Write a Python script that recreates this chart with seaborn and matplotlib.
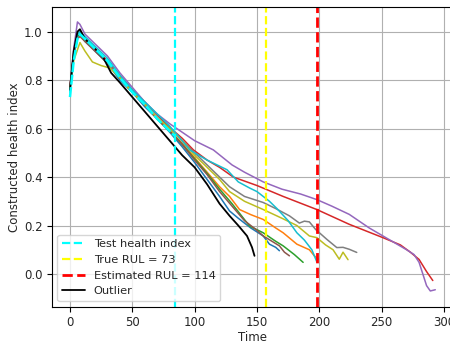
import matplotlib
matplotlib.use("Agg")
import matplotlib.pyplot as plt
import seaborn as sns
import pandas as pd

sns.set_style("ticks")
plt.rcParams['font.family'] = ['DejaVu Sans']

# ---- data ----
blue_t = [0,3,6,8,12,20,30,40,50,60,70,80,90,100,110,120,128,135,145,155,160,165,168]
blue_y = [0.77,0.90,0.98,0.99,0.96,0.92,0.87,0.80,0.75,0.69,0.64,0.585,0.525,0.46,0.39,0.32,0.26,0.23,0.19,0.157,0.123,0.11,0.096]

orange_t = [0,3,6,8,12,20,30,40,50,60,70,80,90,100,110,120,128,136,145,155,165,171,182,192,196,199]
orange_y = [0.77,0.91,0.99,1.0,0.97,0.93,0.87,0.81,0.75,0.70,0.64,0.59,0.54,0.48,0.42,0.36,0.32,0.266,0.245,0.225,0.19,0.17,0.123,0.10,0.075,0.061]

green_t = [0,3,6,8,12,20,30,40,50,60,70,80,90,100,110,120,130,144,155,165,171,180,187]
green_y = [0.77,0.9,0.98,0.99,0.96,0.93,0.87,0.81,0.75,0.70,0.64,0.59,0.535,0.475,0.415,0.35,0.29,0.198,0.17,0.135,0.116,0.08,0.048]

red_t = [0,3,6,8,12,20,30,40,50,60,70,80,90,99,110,120,131,150,171,198,224,251,265,273,280,286,291]
red_y = [0.77,0.91,0.99,1.0,0.97,0.93,0.88,0.82,0.76,0.71,0.655,0.605,0.56,0.512,0.47,0.44,0.40,0.365,0.32,0.266,0.205,0.15,0.12,0.09,0.06,0.01,-0.027]

purple_t = [0,3,6,8,12,20,30,40,50,60,70,80,90,100,115,130,140,155,170,185,198,210,224,240,251,260,270,276,280,286,289,293]
purple_y = [0.77,0.93,1.04,1.03,0.99,0.95,0.90,0.83,0.77,0.71,0.66,0.62,0.585,0.55,0.512,0.45,0.42,0.38,0.35,0.33,0.307,0.28,0.246,0.19,0.157,0.13,0.10,0.08,0.048,-0.048,-0.07,-0.065]

brown_t = [0,3,6,8,12,20,30,40,50,60,70,80,90,100,110,120,130,140,150,155,162,168,172,176]
brown_y = [0.77,0.9,0.97,0.98,0.96,0.92,0.87,0.81,0.75,0.70,0.64,0.59,0.535,0.47,0.41,0.34,0.28,0.22,0.18,0.157,0.135,0.116,0.09,0.075]

gray_t = [0,3,6,8,12,20,30,40,50,60,70,80,90,100,110,120,128,140,155,165,176,184,188,192,197,206,214,219,224,230]
gray_y = [0.77,0.91,0.99,1.0,0.97,0.93,0.87,0.81,0.75,0.70,0.645,0.60,0.55,0.50,0.45,0.40,0.36,0.32,0.295,0.27,0.24,0.21,0.218,0.215,0.184,0.143,0.109,0.11,0.102,0.089]

olive_t = [0,3,8,12,18,25,32,40,50,60,70,80,90,100,110,120,128,140,155,170,182,192,198,205,211,216,219,223]
olive_y = [0.76,0.88,0.955,0.92,0.875,0.86,0.85,0.81,0.75,0.70,0.645,0.60,0.55,0.49,0.44,0.39,0.34,0.30,0.266,0.23,0.20,0.157,0.15,0.12,0.10,0.061,0.09,0.059]

cyan_t = [0,3,6,8,12,20,30,40,50,60,70,80,90,96,110,126,135,144,150,160,166,175,182,188,194,198]
cyan_y = [0.75,0.9,0.99,1.0,0.98,0.94,0.89,0.82,0.76,0.71,0.66,0.61,0.55,0.512,0.47,0.43,0.38,0.355,0.34,0.30,0.27,0.22,0.17,0.14,0.10,0.05]

outlier_t = [0,3,6,8,12,20,27,33,40,50,60,70,80,84,90,100,110,120,128,135,142,146,148]
outlier_y = [0.76,0.92,1.0,1.01,0.97,0.93,0.89,0.83,0.79,0.73,0.67,0.61,0.55,0.526,0.49,0.44,0.37,0.29,0.24,0.20,0.157,0.11,0.075]

test_t = [0,3,6,8,12,20,30,40,50,60,70,80,84]
test_y = [0.73,0.88,0.97,0.99,0.97,0.93,0.88,0.81,0.75,0.70,0.64,0.59,0.57]

current_time = 84
true_rul = 73
est_rul = 114

train_curves = [
    (blue_t, blue_y, "tab:blue"),
    (orange_t, orange_y, "tab:orange"),
    (green_t, green_y, "tab:green"),
    (red_t, red_y, "tab:red"),
    (purple_t, purple_y, "tab:purple"),
    (brown_t, brown_y, "tab:brown"),
    (gray_t, gray_y, "tab:gray"),
    (olive_t, olive_y, "tab:olive"),
    (cyan_t, cyan_y, "tab:cyan"),
]

FS = 8.5

fig = plt.figure(figsize=(4.5, 3.43), dpi=100)
ax = fig.add_axes([0.1149, 0.1058, 0.893, 0.8747])

for t, y, c in train_curves:
    sns.lineplot(x=t, y=y, color=c, lw=1.1, ax=ax, sort=False, estimator=None, legend=False)

sns.lineplot(x=outlier_t, y=outlier_y, color="black", lw=1.3, ax=ax, sort=False,
             estimator=None, label="Outlier")
h_out = ax.lines[-1]
sns.lineplot(x=test_t, y=test_y, color="cyan", lw=1.8, ax=ax, sort=False, estimator=None)
ax.lines[-1].set_linestyle((0, (4, 1)))

h_test = ax.axvline(current_time, color="cyan", ls="--", lw=1.6)
h_true = ax.axvline(current_time + true_rul, color="yellow", ls="--", lw=1.6)
h_est = ax.axvline(current_time + est_rul, color="red", ls="--", lw=2.0)

ax.set_xlim(-14.65, 307.65)
ax.set_ylim(-0.135, 1.103)
ax.set_xticks([0, 50, 100, 150, 200, 250, 300])
ax.set_yticks([0.0, 0.2, 0.4, 0.6, 0.8, 1.0])
ax.grid(True, color="#b0b0b0", lw=0.8)
ax.set_axisbelow(True)
for s in ax.spines.values():
    s.set_visible(True)
    s.set_color("black")
    s.set_linewidth(0.8)
ax.set_xlabel("Time", fontsize=FS, labelpad=1.5)
ax.set_ylabel("Constructed health index", fontsize=FS, labelpad=2)
ax.tick_params(labelsize=FS, direction="out", length=3.5, width=0.8, color="black", pad=3)

ax.legend(handles=[h_test, h_true, h_est, h_out],
          labels=["Test health index", f"True RUL = {true_rul}", f"Estimated RUL = {est_rul}", "Outlier"],
          loc="lower left", fontsize=8.2)

fig.savefig("out.png", dpi=100)
